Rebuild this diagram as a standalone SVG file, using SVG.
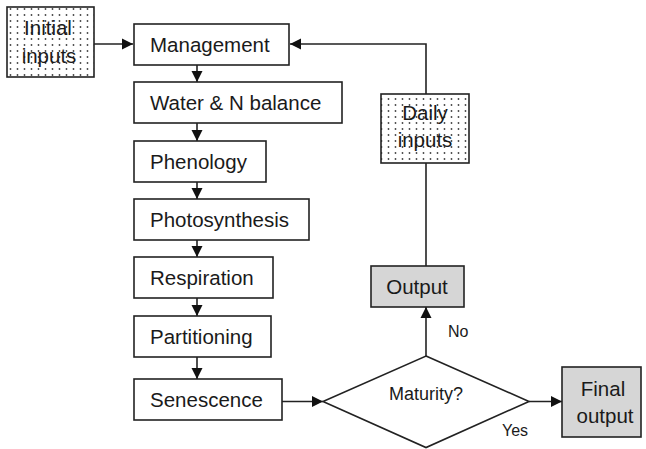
<svg xmlns="http://www.w3.org/2000/svg" width="646" height="449" viewBox="0 0 646 449">
<style>
.box{fill:#fff;stroke:#222;stroke-width:1.6}
.dot{fill:url(#dots);stroke:#222;stroke-width:1.6}
.gray{fill:#d6d6d6;stroke:#222;stroke-width:1.6}
.lbl{font-family:"Liberation Sans",Arial,sans-serif;font-size:20.5px;fill:#1a1a1a}
.sm{font-family:"Liberation Sans",Arial,sans-serif;font-size:16px;fill:#1a1a1a}
.mid{font-family:"Liberation Sans",Arial,sans-serif;font-size:18px;fill:#1a1a1a}
.c{text-anchor:middle}
.ln{fill:none;stroke:#222;stroke-width:1.6}
</style>
<defs>
<pattern id="dots" width="7" height="6" patternUnits="userSpaceOnUse">
<rect width="7" height="6" fill="#fff"/>
<circle cx="3.5" cy="3" r="0.9" fill="#444"/>
</pattern>
<marker id="ah" markerWidth="12" markerHeight="12" refX="11" refY="6" orient="auto" markerUnits="userSpaceOnUse">
<path d="M0,0.5 L11,6 L0,11.5 Z" fill="#111"/>
</marker>
</defs>
<g id="connectors">
<line class="ln" x1="94" y1="44" x2="133" y2="44" marker-end="url(#ah)"/>
<line class="ln" x1="197" y1="65" x2="197" y2="82" marker-end="url(#ah)"/>
<line class="ln" x1="197" y1="123" x2="197" y2="141" marker-end="url(#ah)"/>
<line class="ln" x1="197" y1="182" x2="197" y2="199" marker-end="url(#ah)"/>
<line class="ln" x1="197" y1="240" x2="197" y2="257" marker-end="url(#ah)"/>
<line class="ln" x1="197" y1="298" x2="197" y2="316" marker-end="url(#ah)"/>
<line class="ln" x1="197" y1="357" x2="197" y2="379" marker-end="url(#ah)"/>
<line class="ln" x1="282" y1="401.5" x2="323" y2="401.5" marker-end="url(#ah)"/>
<line class="ln" x1="529" y1="401.5" x2="562" y2="401.5" marker-end="url(#ah)"/>
<line class="ln" x1="426" y1="356" x2="426" y2="307" marker-end="url(#ah)"/>
<line class="ln" x1="426" y1="266" x2="426" y2="163"/>
<polyline class="ln" points="426,94 426,44 290,44" marker-end="url(#ah)"/>
<text class="sm" x="448" y="337">No</text>
<text class="sm" x="502" y="436">Yes</text>
</g>
<g id="initial-inputs">
<rect class="dot" x="7" y="7" width="87" height="70"/>
<text class="lbl c" x="48" y="35">Initial</text>
<text class="lbl c" x="49" y="63">inputs</text>
</g>
<g id="management">
<rect class="box" x="134" y="24" width="155" height="41"/>
<text class="lbl" x="150" y="52">Management</text>
</g>
<g id="water">
<rect class="box" x="134" y="82" width="208" height="41"/>
<text class="lbl" x="150" y="110">Water &amp; N balance</text>
</g>
<g id="phenology">
<rect class="box" x="134" y="141" width="132" height="41"/>
<text class="lbl" x="150" y="169">Phenology</text>
</g>
<g id="photosynthesis">
<rect class="box" x="134" y="199" width="175" height="41"/>
<text class="lbl" x="150" y="227">Photosynthesis</text>
</g>
<g id="respiration">
<rect class="box" x="134" y="257" width="139" height="41"/>
<text class="lbl" x="150" y="285">Respiration</text>
</g>
<g id="partitioning">
<rect class="box" x="134" y="316" width="137" height="41"/>
<text class="lbl" x="150" y="344">Partitioning</text>
</g>
<g id="senescence">
<rect class="box" x="134" y="379" width="148" height="41"/>
<text class="lbl" x="150" y="407">Senescence</text>
</g>
<g id="maturity">
<polygon class="box" points="426,356 529,401.5 426,447.5 323,401.5"/>
<text class="mid c" x="426" y="400">Maturity?</text>
</g>
<g id="output">
<rect class="gray" x="371" y="266" width="93" height="41"/>
<text class="lbl c" x="417" y="294">Output</text>
</g>
<g id="daily-inputs">
<rect class="dot" x="381" y="94" width="88" height="69"/>
<text class="lbl c" x="425" y="120">Daily</text>
<text class="lbl c" x="425" y="147">inputs</text>
</g>
<g id="final-output">
<rect class="gray" x="562" y="367" width="79" height="70"/>
<text class="lbl c" x="603" y="396">Final</text>
<text class="lbl c" x="605" y="423">output</text>
</g>
</svg>
